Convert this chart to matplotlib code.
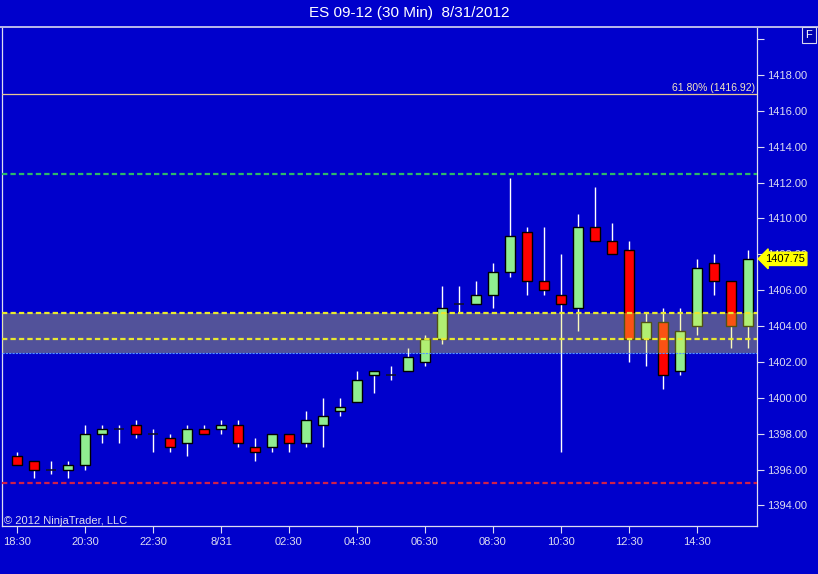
import numpy as np
import matplotlib
matplotlib.use("Agg")
import matplotlib.pyplot as plt
from matplotlib.lines import Line2D

# ES 09-12, 30 minute bars, 18:30 -> 16:00
opens = [1396.75, 1396.5, 1396.0, 1396.0, 1396.25, 1398.0, 1398.25, 1398.5, 1398.0, 1397.75,
         1397.5, 1398.25, 1398.25, 1398.5, 1397.25, 1397.25, 1398.0, 1397.5, 1398.5, 1399.25,
         1399.75, 1401.25, 1401.25, 1401.5, 1402.0, 1403.25, 1405.25, 1405.25, 1405.75, 1407.0,
         1409.25, 1406.5, 1405.75, 1405.0, 1409.5, 1408.75, 1408.25, 1403.25, 1404.25, 1401.5,
         1404.0, 1407.5, 1406.5, 1404.0]
highs = [1397.0, 1396.5, 1396.5, 1396.5, 1398.5, 1398.5, 1398.5, 1398.75, 1398.25, 1398.0,
         1398.5, 1398.5, 1398.75, 1398.75, 1397.75, 1398.0, 1398.0, 1399.25, 1400.0, 1400.0,
         1401.5, 1401.5, 1401.75, 1402.75, 1403.5, 1406.25, 1406.25, 1406.5, 1407.5, 1412.25,
         1409.5, 1409.5, 1408.0, 1410.25, 1411.75, 1409.75, 1408.75, 1404.75, 1405.0, 1405.0,
         1407.75, 1408.0, 1406.5, 1408.25]
lows = [1396.25, 1395.5, 1395.75, 1395.5, 1396.0, 1397.5, 1397.5, 1397.75, 1397.0, 1397.0,
        1396.75, 1398.0, 1398.0, 1397.25, 1396.5, 1397.0, 1397.0, 1397.25, 1397.25, 1399.0,
        1399.75, 1400.25, 1401.0, 1401.5, 1401.75, 1403.0, 1404.75, 1405.25, 1405.0, 1406.75,
        1405.75, 1405.75, 1397.0, 1403.75, 1408.75, 1408.0, 1402.0, 1401.75, 1400.5, 1401.25,
        1403.5, 1405.75, 1402.75, 1402.75]
closes = [1396.25, 1396.0, 1396.0, 1396.25, 1398.0, 1398.25, 1398.25, 1398.0, 1398.0, 1397.25,
          1398.25, 1398.0, 1398.5, 1397.5, 1397.0, 1398.0, 1397.5, 1398.75, 1399.0, 1399.5,
          1401.0, 1401.5, 1401.25, 1402.25, 1403.25, 1405.0, 1405.25, 1405.75, 1407.0, 1409.0,
          1406.5, 1406.0, 1405.25, 1409.5, 1408.75, 1408.0, 1403.25, 1404.25, 1401.25, 1403.75,
          1407.25, 1406.5, 1404.0, 1407.75]

time_ticks = [0, 4, 8, 12, 16, 20, 24, 28, 32, 36, 40]
time_labels = ["18:30", "20:30", "22:30", "8/31", "02:30", "04:30", "06:30",
               "08:30", "10:30", "12:30", "14:30"]
price_ticks = [1394, 1396, 1398, 1400, 1402, 1404, 1406, 1408, 1410, 1412, 1414, 1416, 1418]

fib_level = 1416.92
green_level = 1412.5
yellow_levels = [1404.75, 1403.25]
zone = (1402.5, 1404.75)
red_level = 1395.25

bg = "#0000CC"
fg = "#DDDDF0"

fig = plt.figure(figsize=(8.18, 5.74), dpi=100, facecolor=bg)
W, H = 818, 574
ax = fig.add_axes([2 / W, 1 - 526 / H, 755 / W, 498 / H], facecolor=bg)

x = np.arange(len(opens))
o = np.array(opens)
c = np.array(closes)
up = c > o
down = c < o
flat = c == o

# wicks
ax.vlines(x, lows, highs, color="white", lw=1, zorder=2)
# bodies
w = 0.62
ax.bar(x[up], (c - o)[up], bottom=o[up], width=w, color="#90EE90",
       edgecolor="black", lw=1, zorder=3)
ax.bar(x[down], (o - c)[down], bottom=c[down], width=w, color="#FF0000",
       edgecolor="black", lw=1, zorder=3)
ax.hlines(o[flat], x[flat] - w / 2, x[flat] + w / 2, color="#101030", lw=1.2, zorder=3)

# zone and levels
ax.axhspan(zone[0], zone[1], color="#F2F23A", alpha=0.34, lw=0, zorder=4)
ax.axhline(zone[0], color="#5599FF", lw=0.8, ls=(0, (2, 1)), zorder=5)
for lv in yellow_levels:
    ax.axhline(lv, color="#E8E830", lw=1.6, ls=(0, (2.4, 1.4)), zorder=5)
ax.axhline(green_level, color="#2EB86A", lw=1.6, ls=(0, (2.4, 1.4)), zorder=5)
ax.axhline(red_level, color="#D0204A", lw=1.6, ls=(0, (2.4, 1.4)), zorder=5)
ax.axhline(fib_level, color="#E8C890", lw=0.9, zorder=5)
ax.text(43.4, fib_level + 0.1, f"61.80% ({fib_level:.2f})", color="#F4E6C0",
        fontsize=7.5, family="Liberation Sans", ha="right", va="bottom", zorder=6)

ax.set_xlim(-0.88, 43.53)
ax.set_ylim(1392.85, 1420.62)

ax.yaxis.tick_right()
ax.set_yticks(price_ticks + [1420])
ax.set_yticklabels([f"{p:.2f}" for p in price_ticks] + [""])
ax.set_xticks(time_ticks)
ax.set_xticklabels(time_labels)
ax.tick_params(colors=fg, labelcolor=fg, labelsize=8, length=5, width=0.8)
for lab in ax.get_xticklabels() + ax.get_yticklabels():
    lab.set_family("Liberation Sans")
ax.tick_params(axis="x", pad=3)
ax.tick_params(axis="y", pad=2)
for s in ax.spines.values():
    s.set_color(fg)
    s.set_linewidth(0.9)
ax.spines["top"].set_visible(False)

# last price marker, drawn over the 1408.00 label like the platform does
ax.annotate(f"{closes[-1]:.2f}", xy=(1.0, closes[-1]), xycoords=("axes fraction", "data"),
            xytext=(6, 0), textcoords="offset points", ha="left", va="center",
            fontsize=8, family="Liberation Sans", color="black",
            bbox=dict(boxstyle="larrow,pad=0.15", fc="#FFFF00", ec="#FFFF00"),
            annotation_clip=False, zorder=10)

ax.text(0.002, 0.0, "\u00a9 2012 NinjaTrader, LLC", transform=ax.transAxes,
        color=fg, fontsize=8, family="Liberation Sans", ha="left", va="bottom")

# title band
fig.text(0.5, 1 - 13 / H, "ES 09-12 (30 Min)  8/31/2012", color="white",
         fontsize=11, family=["Liberation Sans Narrow", "Liberation Sans"],
         ha="center", va="center")
fig.add_artist(Line2D([0, 1], [1 - 27 / H, 1 - 27 / H], color="#D8D8F0", lw=1.2))

fig.text(809 / W, 1 - 35 / H, "F", color="white", fontsize=8, family="Liberation Sans",
         ha="center", va="center",
         bbox=dict(boxstyle="square,pad=0.3", fc="#0000B0", ec="#D8D8F0", lw=0.8))

fig.savefig("out.png", dpi=100, facecolor=bg)
